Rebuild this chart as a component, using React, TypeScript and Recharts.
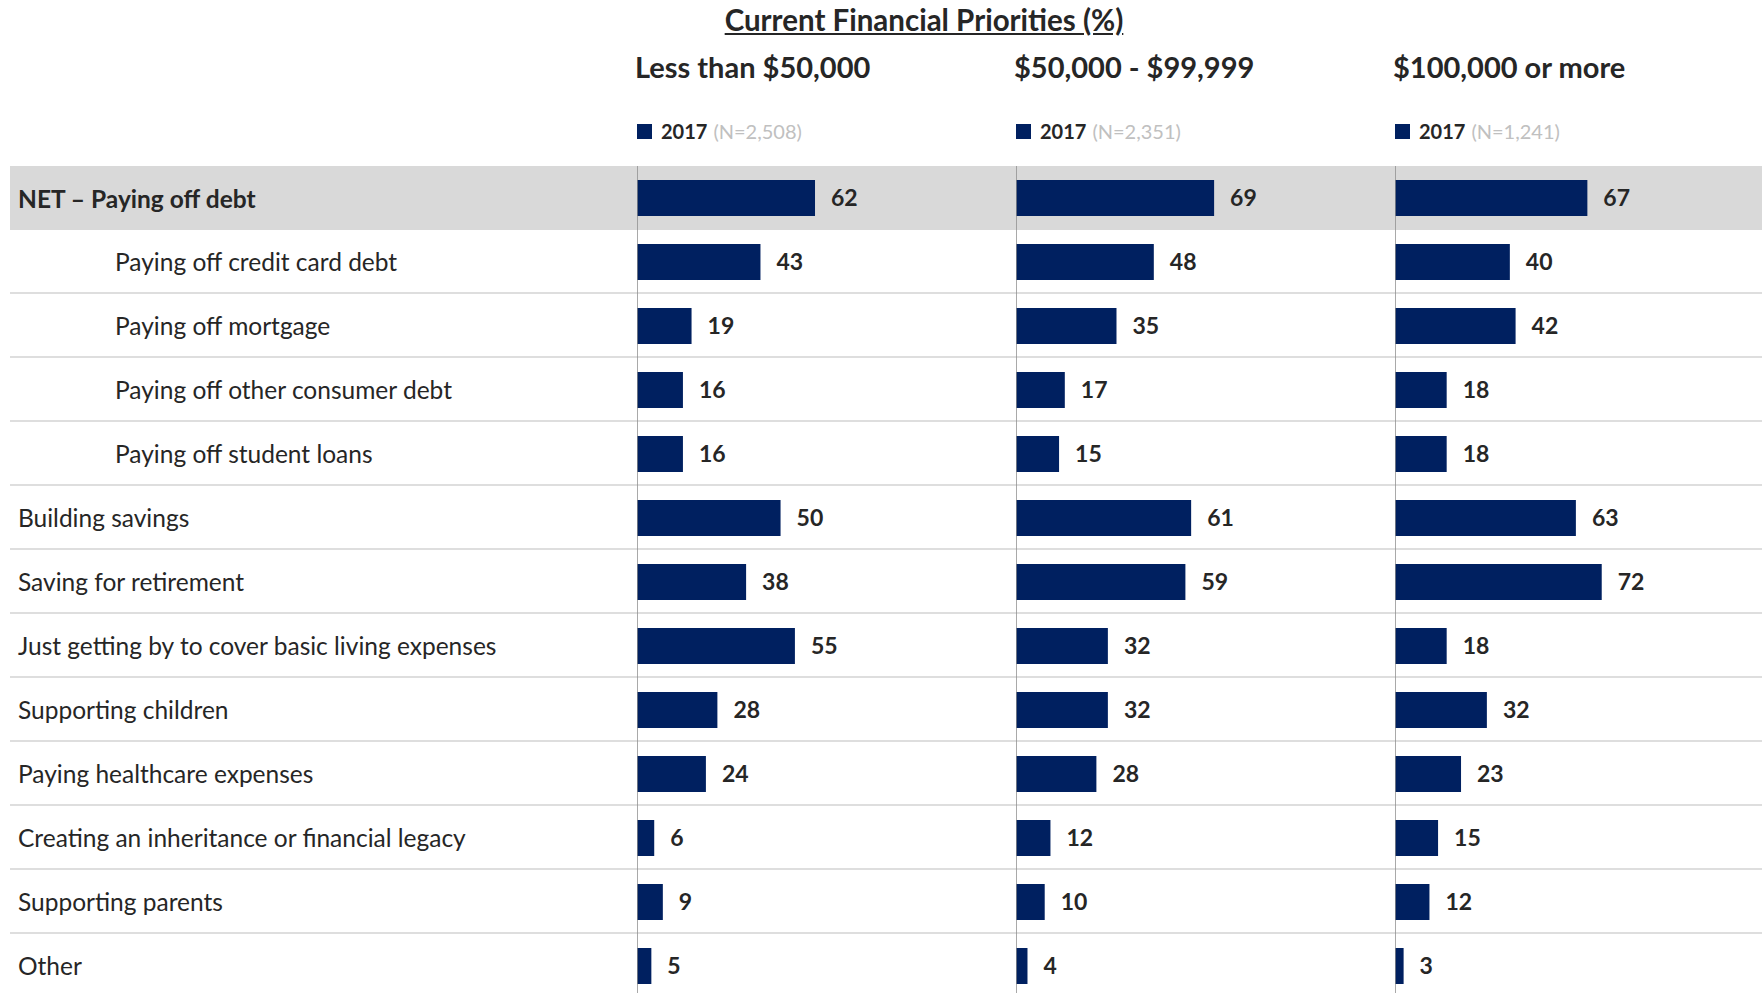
import { BarChart, Bar, XAxis, YAxis, ReferenceLine, LabelList } from "recharts";

const categories = [
  "NET – Paying off debt",
  "Paying off credit card debt",
  "Paying off mortgage",
  "Paying off other consumer debt",
  "Paying off student loans",
  "Building savings",
  "Saving for retirement",
  "Just getting by to cover basic living expenses",
  "Supporting children",
  "Paying healthcare expenses",
  "Creating an inheritance or financial legacy",
  "Supporting parents",
  "Other",
];

// sub-items of the NET row are indented
const indented = [false, true, true, true, true, false, false, false, false, false, false, false, false];

const incomeGroups = ["Less than $50,000", "$50,000 - $99,999", "$100,000 or more"];
const surveyYear = "2017";
const sampleSizes = ["N=2,508", "N=2,351", "N=1,241"];

const under50k = [62, 43, 19, 16, 16, 50, 38, 55, 28, 24, 6, 9, 5];
const from50kTo99k = [69, 48, 35, 17, 15, 61, 59, 32, 32, 28, 12, 10, 4];
const over100k = [67, 40, 42, 18, 18, 63, 72, 18, 32, 23, 15, 12, 3];

const series = [under50k, from50kTo99k, over100k];

const NAVY = "#002060";
const TEXT = "#262626";
const FONT = "Lato, 'Open Sans', sans-serif";

const ROW_TOP = 166;
const ROW_H = 64;
const COL_LEFT = [637, 1016, 1395];
const COL_W = 379;
const X_MAX = 132;

const IncomeColumn = ({ values, idx }: { values: number[]; idx: number }) => {
  const data = categories.map((label, i) => ({ label, value: values[i] }));
  const left = COL_LEFT[idx];
  return (
    <>
      <div
        style={{
          position: "absolute",
          left: left - 2,
          top: 50,
          fontSize: 29,
          lineHeight: "34px",
          fontWeight: 700,
          color: TEXT,
          whiteSpace: "nowrap",
        }}
      >
        {incomeGroups[idx]}
      </div>
      <div
        style={{
          position: "absolute",
          left: left,
          top: 117,
          height: 28,
          display: "flex",
          alignItems: "center",
          fontSize: 20,
          whiteSpace: "nowrap",
        }}
      >
        <span style={{ width: 15, height: 15, background: NAVY, marginRight: 9 }} />
        <span style={{ fontWeight: 700, color: TEXT, marginRight: 6 }}>{surveyYear}</span>
        <span style={{ color: "#c0c0c0" }}>({sampleSizes[idx]})</span>
      </div>
      <div style={{ position: "absolute", left, top: ROW_TOP }}>
        <BarChart
          width={COL_W}
          height={ROW_H * categories.length}
          data={data}
          layout="vertical"
          margin={{ top: 0, right: 0, bottom: 0, left: 0 }}
        >
          <XAxis type="number" domain={[0, X_MAX]} hide />
          <YAxis type="category" dataKey="label" hide />
          <Bar dataKey="value" fill={NAVY} barSize={36} isAnimationActive={false}>
            <LabelList
              dataKey="value"
              position="right"
              offset={16}
              fill={TEXT}
              fontSize={23}
              fontWeight={700}
              fontFamily={FONT}
            />
          </Bar>
          <ReferenceLine x={0} stroke="#8c8c8c" strokeWidth={1.5} ifOverflow="visible" />
        </BarChart>
      </div>
    </>
  );
};

export default function App() {
  return (
    <div
      style={{
        position: "absolute",
        left: 0,
        top: 0,
        width: 1764,
        height: 993,
        overflow: "hidden",
        background: "#fff",
        fontFamily: FONT,
        color: TEXT,
      }}
    >
      <div
        style={{
          position: "absolute",
          left: 924,
          top: 3,
          transform: "translateX(-50%)",
          fontSize: 29.5,
          lineHeight: "34px",
          fontWeight: 700,
          textDecoration: "underline",
          whiteSpace: "nowrap",
        }}
      >
        Current Financial Priorities (%)
      </div>

      {/* row backgrounds, separators and labels */}
      <div style={{ position: "absolute", left: 10, top: ROW_TOP, width: 1752 }}>
        {categories.map((c, i) => (
          <div
            key={c}
            style={{
              boxSizing: "border-box",
              height: ROW_H,
              display: "flex",
              alignItems: "center",
              paddingLeft: indented[i] ? 105 : 8,
              background: i === 0 ? "#d9d9d9" : "transparent",
              borderBottom: i === 0 ? "none" : "2px solid #dedede",
              fontSize: 24.5,
              fontWeight: i === 0 ? 700 : 400,
              whiteSpace: "nowrap",
            }}
          >
            {c}
          </div>
        ))}
      </div>

      {series.map((values, i) => (
        <IncomeColumn key={incomeGroups[i]} values={values} idx={i} />
      ))}
    </div>
  );
}
